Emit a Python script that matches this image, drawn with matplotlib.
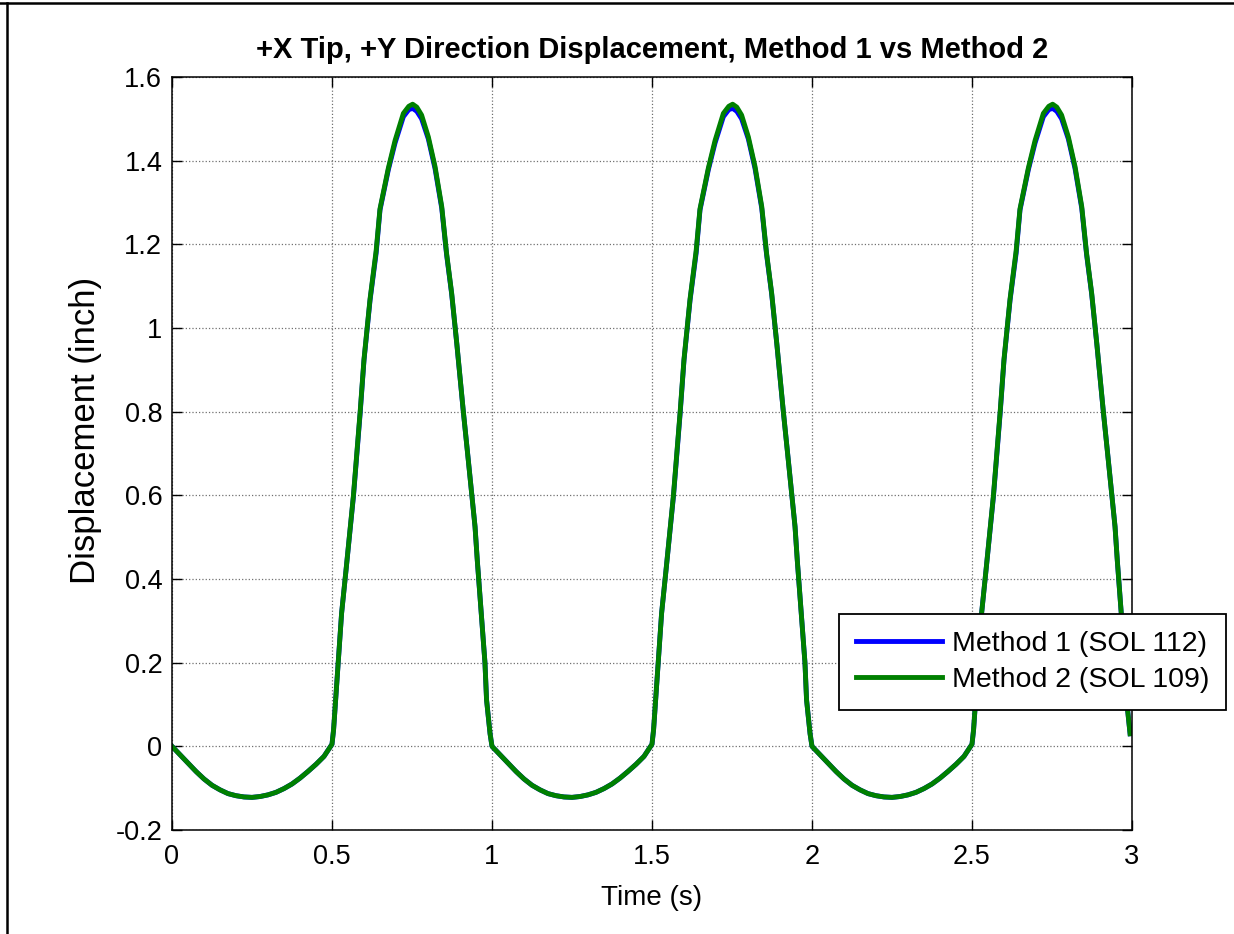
import matplotlib
matplotlib.use('Agg')
import matplotlib.pyplot as plt
from matplotlib.lines import Line2D

plt.rcParams['font.family'] = ['Liberation Sans', 'DejaVu Sans']

# time within one load cycle (s) and tip displacement (inch)
cycle_time = [0.000, 0.025, 0.050, 0.075, 0.100, 0.125, 0.150, 0.175, 0.200,
              0.225, 0.250, 0.275, 0.300, 0.325, 0.350, 0.375, 0.400, 0.425,
              0.450, 0.475, 0.500, 0.505, 0.515, 0.530, 0.545, 0.567, 0.588,
              0.600, 0.619, 0.638, 0.650, 0.676, 0.697, 0.723, 0.740, 0.752,
              0.765, 0.780, 0.801, 0.822, 0.843, 0.858, 0.874, 0.890, 0.910,
              0.926, 0.947, 0.954, 0.968, 0.978, 0.983, 0.994]
method1_cycle = [0.000, -0.020, -0.040, -0.060, -0.078, -0.093, -0.104, -0.113, -0.118,
                 -0.121, -0.122, -0.120, -0.116, -0.110, -0.101, -0.090, -0.076, -0.060,
                 -0.043, -0.024, 0.005, 0.040, 0.150, 0.318, 0.430, 0.597, 0.796,
                 0.923, 1.067, 1.179, 1.282, 1.378, 1.442, 1.505, 1.522, 1.525,
                 1.518, 1.500, 1.452, 1.381, 1.286, 1.176, 1.081, 0.962, 0.803,
                 0.684, 0.525, 0.445, 0.302, 0.200, 0.111, 0.030]
method2_cycle = [0.000, -0.020, -0.040, -0.060, -0.078, -0.093, -0.104, -0.113, -0.118,
                 -0.121, -0.122, -0.120, -0.116, -0.110, -0.101, -0.090, -0.076, -0.060,
                 -0.043, -0.024, 0.005, 0.040, 0.150, 0.318, 0.430, 0.600, 0.800,
                 0.925, 1.070, 1.185, 1.285, 1.382, 1.448, 1.513, 1.530, 1.535,
                 1.528, 1.509, 1.457, 1.386, 1.290, 1.179, 1.083, 0.963, 0.804,
                 0.684, 0.525, 0.445, 0.302, 0.200, 0.111, 0.030]
n_cycles = 3

x_ticks = [0, 0.5, 1, 1.5, 2, 2.5, 3]
x_tick_labels = ['0', '0.5', '1', '1.5', '2', '2.5', '3']
y_ticks = [-0.2, 0, 0.2, 0.4, 0.6, 0.8, 1, 1.2, 1.4, 1.6]
y_tick_labels = ['-0.2', '0', '0.2', '0.4', '0.6', '0.8', '1', '1.2', '1.4', '1.6']

# repeat the cycle over the whole run
time = []
method1 = []
method2 = []
for k in range(n_cycles):
    time += [k + t for t in cycle_time]
    method1 += method1_cycle
    method2 += method2_cycle

fig = plt.figure(figsize=(12.34, 9.34), dpi=100)
ax = fig.add_axes([0.13938, 0.11135, 0.77796, 0.80621])

ax.plot(time, method1, color='#0000ff', lw=3.5, label='Method 1 (SOL 112)')
ax.plot(time, method2, color='#008000', lw=3.5, label='Method 2 (SOL 109)')

ax.set_xlim(0, 3)
ax.set_ylim(-0.2, 1.6)
ax.set_xticks(x_ticks)
ax.set_xticklabels(x_tick_labels)
ax.set_yticks(y_ticks)
ax.set_yticklabels(y_tick_labels)

# inward ticks on every side, like the old matlab look
ax.tick_params(direction='in', length=7, width=1, top=True, right=True,
               labelsize=19.5)
ax.tick_params(axis='x', pad=10)
ax.tick_params(axis='y', pad=7)
for spine in ax.spines.values():
    spine.set_linewidth(1.1)

ax.grid(True, linestyle=':', color='#707070', linewidth=0.9)

ax.set_title('+X Tip, +Y Direction Displacement, Method 1 vs Method 2',
             fontsize=21, fontweight='bold', pad=14)
ax.set_xlabel('Time (s)', fontsize=20, va='center')
ax.xaxis.set_label_coords(0.5, -0.0903)
ax.set_ylabel('Displacement (inch)', fontsize=25, va='center')
ax.yaxis.set_label_coords(-0.0906, 0.531)

leg = ax.legend(loc='upper right', bbox_to_anchor=(0.9935, 0.3426),
                bbox_transform=fig.transFigure, fontsize=20.5, fancybox=False,
                framealpha=1, edgecolor='black', borderaxespad=0,
                handlelength=3.0, handletextpad=0.35, borderpad=0.6,
                labelspacing=0.35)
leg.get_frame().set_linewidth(1.3)

# frame lines along the top and left edge of the window
fig.add_artist(Line2D([0, 1], [1 - 3 / 934, 1 - 3 / 934], color='black', lw=1.8,
                      transform=fig.transFigure))
fig.add_artist(Line2D([7 / 1234, 7 / 1234], [0, 1 - 3 / 934], color='black', lw=1.8,
                      transform=fig.transFigure))

fig.savefig('out.png', dpi=100, facecolor='white')
